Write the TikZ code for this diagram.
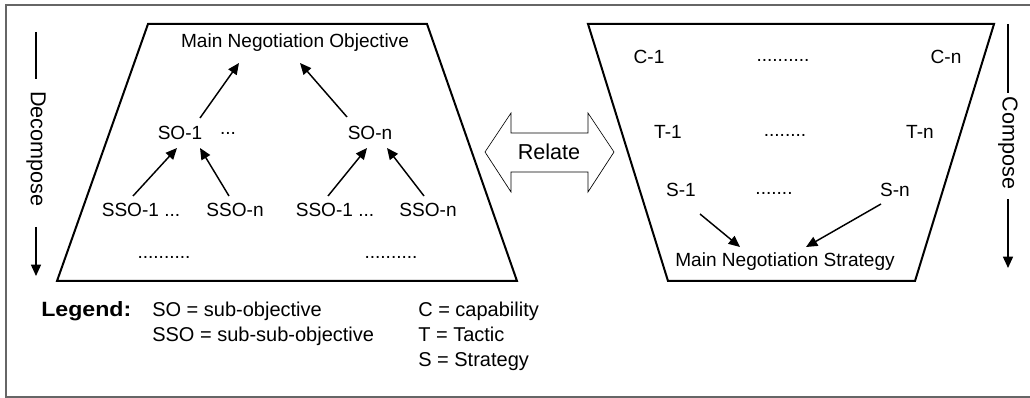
\documentclass[tikz,border=0pt]{standalone}
\usepackage{fontspec}
\setmainfont{Liberation Sans}
\usetikzlibrary{arrows.meta}
\tikzset{
  lbl/.style={inner sep=0pt, font=\fontsize{14.3}{16}\selectfont},
  big/.style={inner sep=0pt, font=\fontsize{16.2}{18}\selectfont},
  leg/.style={inner sep=0pt, anchor=base west, font=\fontsize{15}{17}\selectfont},
  legb/.style={inner sep=0pt, anchor=base west, xscale=1.12, font=\fontsize{15.5}{17}\selectfont\bfseries},
  arr/.style={line width=1.1pt, -{Triangle[length=8.5pt,width=7.5pt]}},
  plain/.style={line width=1.1pt},
  trap/.style={line width=1.5pt, line join=miter},
  frame/.style={line width=1.1pt, draw=black!60},
  relarrow/.style={line width=0.5pt, fill=white, draw=black}
}
\begin{document}
\begin{tikzpicture}[x=0.75pt,y=-0.75pt]
\useasboundingbox (0,0) rectangle (1030,398);
% outer frame
\draw[frame] (1034,5) -- (6,5) -- (6,397) -- (1034,397);

% left trapezoid
\draw[trap] (148,24) -- (427,24) -- (517,281) -- (57,281) -- cycle;
% right trapezoid
\draw[trap] (588,24) -- (994,24) -- (915,281) -- (668,281) -- cycle;

% left side texts
\node[lbl] (mno) at (295,43) {Main Negotiation Objective};
\node[lbl] (so1) at (180,133) {SO-1};
\node[lbl] (sodots) at (228,133) {...};
\node[lbl] (son) at (370,133) {SO-n};
\node[lbl] (sso1a) at (141,210) {SSO-1 ...};
\node[lbl] (ssona) at (235,210) {SSO-n};
\node[lbl] (sso1b) at (335,210) {SSO-1 ...};
\node[lbl] (ssonb) at (428,210) {SSO-n};
\node[lbl] (dotsa) at (164,257) {..........};
\node[lbl] (dotsb) at (391,257) {..........};

\draw[arr] ([shift={(20,-15)}]so1.center) -- ([shift={(-56,20)}]mno.center);
\draw[arr] ([shift={(-23,-16)}]son.center) -- ([shift={(5,20)}]mno.center);
\draw[arr] ([shift={(-8,-14)}]sso1a.center) -- ([shift={(-3,15)}]so1.center);
\draw[arr] ([shift={(-6,-14)}]ssona.center) -- ([shift={(20,15)}]so1.center);
\draw[arr] ([shift={(-7,-14)}]sso1b.center) -- ([shift={(-3,15)}]son.center);
\draw[arr] ([shift={(-4,-14)}]ssonb.center) -- ([shift={(17,15)}]son.center);

% right side texts
\node[lbl] (c1) at (649,57) {C-1};
\node[lbl] (cdots) at (783,60) {..........};
\node[lbl] (cn) at (946,57) {C-n};
\node[lbl] (t1) at (668,132) {T-1};
\node[lbl] (tdots) at (785,135) {........};
\node[lbl] (tn) at (920,132) {T-n};
\node[lbl] (s1) at (681,190) {S-1};
\node[lbl] (sdots) at (774,193) {.......};
\node[lbl] (sn) at (895,190) {S-n};
\node[lbl] (mns) at (785,262) {Main Negotiation Strategy};

\draw[arr] ([shift={(19,24)}]s1.center) -- ([shift={(-45,-15)}]mns.center);
\draw[arr] ([shift={(-14,14)}]sn.center) -- ([shift={(21,-15)}]mns.center);

% relate double arrow
\draw[relarrow] (485,152) -- (511,113) -- (511,133) -- (588,133) -- (588,113)
  -- (614,152) -- (588,192) -- (588,172) -- (511,172) -- (511,192) -- cycle;
\node[big] (rel) at (549,152) {Relate};

% decompose
\node[big, rotate=-90] (dec) at (36,149) {Decompose};
\coordinate (dectop) at (36,32);
\coordinate (decbot) at (36,276);
\draw[plain] (dectop) -- ([yshift=9pt]dec.west);
\draw[arr] ([yshift=-15pt]dec.east) -- (decbot);

% compose
\node[big, rotate=-90] (comp) at (1008,143) {Compose};
\coordinate (comptop) at (1008,24);
\coordinate (compbot) at (1008,268);
\draw[plain] (comptop) -- ([yshift=3pt]comp.west);
\draw[arr] ([yshift=-7.5pt]comp.east) -- (compbot);

% legend
\node[legb] (legend) at (41,317) {Legend:};
\node[leg] (l1) at (152,317) {SO = sub-objective};
\node[leg] (l2) at (152,342) {SSO = sub-sub-objective};
\node[leg] (l3) at (418,317) {C = capability};
\node[leg] (l4) at (418,342) {T = Tactic};
\node[leg] (l5) at (418,367) {S = Strategy};
\end{tikzpicture}
\end{document}
